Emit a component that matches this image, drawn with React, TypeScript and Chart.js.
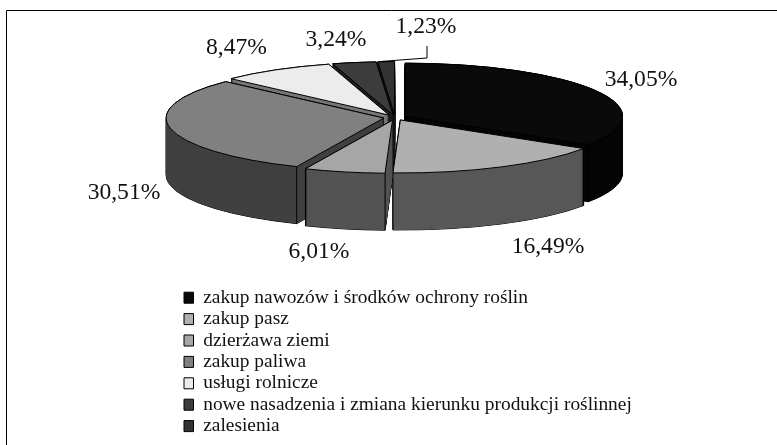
import React, { useEffect, useRef } from "react";
import { Chart, registerables } from "chart.js";

Chart.register(...registerables);

const categories = [
  "zakup nawozów i środków ochrony roślin",
  "zakup pasz",
  "dzierżawa ziemi",
  "zakup paliwa",
  "usługi rolnicze",
  "nowe nasadzenia i zmiana kierunku produkcji roślinnej",
  "zalesienia",
];
const shares = [34.05, 16.49, 6.01, 30.51, 8.47, 3.24, 1.23];
const topColors = ["#0a0a0a", "#b0b0b0", "#a6a6a6", "#808080", "#ececec", "#3c3c3c", "#333333"];
const sideColors = ["#050505", "#585858", "#535353", "#404040", "#767676", "#1e1e1e", "#191919"];
const labelAnchors = [
  [641, 80],
  [548, 247],
  [319, 252],
  [124, 193],
  [236.5, 48],
  [336, 40],
  [426, 27],
];

const SERIF = '"Liberation Serif", "Times New Roman", serif';
const CENTER_X = 395;
const CENTER_Y = 117.5;
const RADIUS_X = 217.5;
const FLATTEN = 53 / 217.5;
const DEPTH = 57;
const EXPLODE = 46; // Chart.js arc offset; moves a slice by a quarter of this

const pie3d = {
  id: "pie3d",
  beforeDraw(chart: any) {
    const { ctx } = chart;
    ctx.save();
    ctx.strokeStyle = "#000";
    ctx.lineWidth = 1;
    ctx.beginPath();
    ctx.moveTo(6.5, 445);
    ctx.lineTo(6.5, 10.5);
    ctx.lineTo(777, 10.5);
    ctx.stroke();
    ctx.restore();
  },
  beforeDatasetDraw(chart: any, args: any) {
    const { ctx } = chart;
    const arcs: any[] = args.meta.data;
    const Arc = arcs[0].constructor;
    const rawStroke = ctx.stroke;
    // Keep outlines one pixel wide although the slices are drawn flattened.
    ctx.stroke = function () {
      ctx.save();
      ctx.setTransform(1, 0, 0, 1, 0, 0);
      ctx.lineWidth = 1;
      rawStroke.call(ctx);
      ctx.restore();
    };
    const mid = (a: any) => (a.startAngle + a.endAngle) / 2;
    const order = arcs.map((_, i) => i).sort((p, q) => Math.sin(mid(arcs[p])) - Math.sin(mid(arcs[q])));

    const drawLayer = (arc: any, dy: number, fill: string, stroke: boolean) => {
      const d = (arc.options.offset || 0) / 4;
      const view = Object.create(arc);
      view.options = {
        backgroundColor: fill,
        borderColor: "#000",
        borderWidth: stroke ? 1 : 0,
        borderAlign: "center",
        borderJoinStyle: "round",
        borderRadius: 0,
        borderDash: [],
        borderDashOffset: 0,
        offset: 0,
        spacing: 0,
        circular: true,
      };
      ctx.save();
      ctx.translate(CENTER_X, CENTER_Y + dy);
      ctx.scale(1, FLATTEN);
      ctx.translate(Math.cos(mid(arc)) * d - arc.x, Math.sin(mid(arc)) * d - arc.y);
      Arc.prototype.draw.call(view, ctx);
      ctx.restore();
    };

    for (const i of order) {
      const arc = arcs[i];
      const side = sideColors[i];
      // silhouette outline, then the side fill, one pixel at a time
      for (let dy = DEPTH; dy >= 0; dy--) drawLayer(arc, dy, side, true);
      for (let dy = DEPTH; dy >= 0; dy--) drawLayer(arc, dy, side, false);
      // vertical edges where the curved wall meets the cut faces
      const d = (arc.options.offset || 0) / 4;
      ctx.save();
      ctx.setTransform(1, 0, 0, 1, 0, 0);
      ctx.strokeStyle = "#000";
      ctx.lineWidth = 1;
      const ox = CENTER_X + Math.cos(mid(arc)) * d;
      const oy = CENTER_Y + Math.sin(mid(arc)) * d * FLATTEN;
      const edge = (ax: number, ay: number) => {
        ctx.beginPath();
        ctx.moveTo(ax, ay);
        ctx.lineTo(ax, ay + DEPTH);
        rawStroke.call(ctx);
      };
      for (const ang of [arc.startAngle, arc.endAngle]) {
        if (Math.sin(ang) > -0.2) {
          edge(ox + Math.cos(ang) * arc.outerRadius, oy + Math.sin(ang) * arc.outerRadius * FLATTEN);
        }
      }
      ctx.restore();
      drawLayer(arc, 0, topColors[i], true);
    }
    delete ctx.stroke;
    return false;
  },
  afterDatasetsDraw(chart: any) {
    const { ctx } = chart;
    ctx.save();
    ctx.fillStyle = "#111";
    ctx.font = `23.6px ${SERIF}`;
    ctx.textAlign = "center";
    ctx.textBaseline = "middle";
    shares.forEach((v, i) => {
      const [x, y] = labelAnchors[i];
      ctx.fillText(`${v.toFixed(2).replace(".", ",")}%`, x, y);
    });
    // leader line of the smallest slice
    const top = labelAnchors[6];
    ctx.strokeStyle = "#000";
    ctx.lineWidth = 1;
    ctx.beginPath();
    ctx.moveTo(top[0] + 1, 46);
    ctx.lineTo(top[0] + 1, 58);
    ctx.lineTo(380, 61.5);
    ctx.stroke();
    ctx.restore();
  },
};

export default function App() {
  const ref = useRef<HTMLCanvasElement>(null);
  useEffect(() => {
    const chart = new Chart(ref.current as HTMLCanvasElement, {
      type: "pie",
      data: {
        labels: categories,
        datasets: [
          {
            data: shares,
            backgroundColor: topColors,
            borderColor: "#000",
            borderWidth: 1,
            offset: EXPLODE,
            radius: RADIUS_X,
          } as any,
        ],
      },
      options: {
        responsive: false,
        animation: false,
        events: [],
        layout: { padding: { left: 182, bottom: 0, top: 286, right: 0 } },
        plugins: {
          tooltip: { enabled: false },
          legend: {
            position: "left",
            align: "start",
            maxWidth: 540,
            labels: {
              boxWidth: 9.5,
              boxHeight: 11,
              padding: 2,
              color: "#111",
              font: { family: SERIF, size: 19.4 },
            },
          },
        },
      },
      plugins: [pie3d],
    } as any);
    return () => chart.destroy();
  }, []);
  return (
    <div style={{ position: "absolute", left: 0, top: 0, width: 777, height: 445, background: "#fff" }}>
      <canvas ref={ref} width={777} height={445} style={{ display: "block" }} />
    </div>
  );
}
